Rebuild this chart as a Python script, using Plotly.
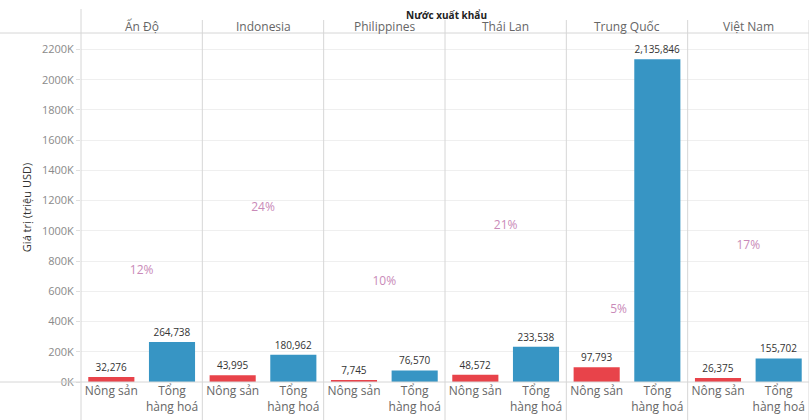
import plotly.graph_objects as go

# Export value of agricultural products vs total goods, by exporting country (million USD)
countries = ["Ấn Độ", "Indonesia", "Philippines", "Thái Lan", "Trung Quốc", "Việt Nam"]
categories = ["Nông sản", "Tổng<br>hàng hoá"]
agri = [32276, 43995, 7745, 48572, 97793, 26375]
total = [264738, 180962, 76570, 233538, 2135846, 155702]
share_labels = ["12%", "24%", "10%", "21%", "5%", "17%"]

y_ticks = list(range(0, 2200001, 200000))
y_ticktext = [f"{v // 1000}K" for v in y_ticks]

RED = "#e8434a"
BLUE = "#3795c4"
PINK = "#c98ab8"
GRID = "#efefef"
SEP = "#d6d6d6"
FONT = "Open Sans"

W, H = 809, 420
ML, MR, MT, MB = 81, 0, 33, 38
PH = H - MT - MB
PW = W - ML - MR

n = len(countries)
# Each country occupies two slots on one shared numeric x axis
agri_x = [2 * i for i in range(n)]
total_x = [2 * i + 1 for i in range(n)]
mid_x = [2 * i + 0.5 for i in range(n)]

fig = go.Figure()
fig.add_trace(go.Bar(
    x=agri_x, y=agri, name="Nông sản",
    marker=dict(color=RED, line=dict(width=0)), width=0.76,
    text=[f"{v:,}" for v in agri], textposition="outside",
    textfont=dict(size=10, color="#333333", family=FONT),
    cliponaxis=False, showlegend=False, hoverinfo="skip",
))
fig.add_trace(go.Bar(
    x=total_x, y=total, name="Tổng hàng hoá",
    marker=dict(color=BLUE, line=dict(width=0)), width=0.76,
    text=[f"{v:,}" for v in total], textposition="outside",
    textfont=dict(size=10, color="#333333", family=FONT),
    cliponaxis=False, showlegend=False, hoverinfo="skip",
))

# Share of agricultural exports in total, on an overlaid hidden percent axis
pct_values = [a / t * 100 for a, t in zip(agri, total)]
# keep the label clear of the tall bar beside it
pct_positions = ["middle left" if t > 1_000_000 else "middle center" for t in total]
fig.add_trace(go.Scatter(
    x=mid_x, y=pct_values, mode="text", text=share_labels,
    textposition=pct_positions,
    textfont=dict(size=12, color=PINK, family=FONT),
    yaxis="y2", showlegend=False, hoverinfo="skip", cliponaxis=False,
))

fig.update_layout(
    xaxis=dict(
        range=[-0.5, 2 * n - 0.5],
        tickvals=agri_x + total_x,
        ticktext=[categories[0]] * n + [categories[1]] * n,
        showgrid=False, zeroline=False, ticks="", showline=False,
        tickfont=dict(size=12, color="#666666", family=FONT),
        fixedrange=True,
    ),
    yaxis=dict(
        range=[0, 2309000], tickvals=y_ticks, ticktext=y_ticktext,
        showgrid=True, gridcolor=GRID, gridwidth=1, zeroline=False,
        ticks="outside", ticklen=4, tickcolor="#e0e0e0",
        tickfont=dict(size=11, color="#8a8a8a", family=FONT),
        title=dict(text="Giá trị (triệu USD)", standoff=8,
                   font=dict(size=11, color="#333333", family=FONT)),
        fixedrange=True,
    ),
    yaxis2=dict(overlaying="y", range=[-9.21, 58.03], visible=False, fixedrange=True),
)

# Panel separators, header rule and baseline
shapes = []
for k in range(n + 1):
    x = k / n
    top = (H - MB - 9) / PH if k == 0 else (H - MB - 20) / PH
    shapes.append(dict(type="line", xref="paper", yref="paper", x0=x, x1=x,
                       y0=-MB / PH, y1=top, line=dict(color=SEP, width=1)))
shapes.append(dict(type="line", xref="paper", yref="paper", x0=-ML / PW, x1=1,
                   y0=1.0, y1=1.0, line=dict(color=SEP, width=1)))
shapes.append(dict(type="line", xref="paper", yref="paper", x0=-ML / PW, x1=1,
                   y0=0, y1=0, line=dict(color=SEP, width=1)))

annotations = [dict(text="<b>Nước xuất khẩu</b>", xref="paper", yref="paper",
                    x=(446 - ML) / PW, y=(H - MB - 14.5) / PH,
                    showarrow=False, font=dict(size=10, color="#222222", family=FONT),
                    xanchor="center", yanchor="middle")]
for i, c in enumerate(countries):
    annotations.append(dict(text=c, xref="x", yref="paper",
                            x=mid_x[i], y=(H - MB - 26.5) / PH,
                            showarrow=False, font=dict(size=12, color="#666666", family=FONT),
                            xanchor="center", yanchor="middle"))

fig.update_layout(
    width=W, height=H,
    margin=dict(l=ML, r=MR, t=MT, b=MB),
    plot_bgcolor="white", paper_bgcolor="white",
    shapes=shapes,
    annotations=annotations,
    font=dict(family=FONT),
)

fig.write_html("out.html")
